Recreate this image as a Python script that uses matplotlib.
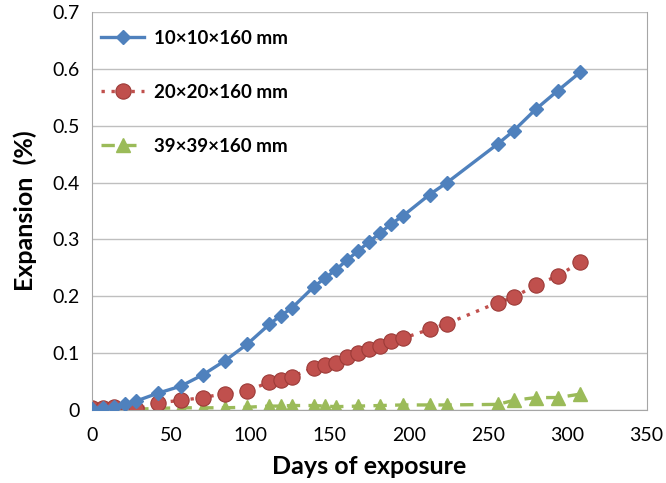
import matplotlib.pyplot as plt

# --- datos ---
dias_10 = [0, 7, 14, 21, 28, 42, 56, 70, 84, 98, 112, 119, 126, 140, 147, 154, 161,
           168, 175, 182, 189, 196, 213, 224, 256, 266, 280, 294, 308]
exp_10 = [0.002, 0.003, 0.005, 0.011, 0.016, 0.030, 0.042, 0.062, 0.087, 0.116, 0.151,
          0.166, 0.179, 0.217, 0.232, 0.247, 0.264, 0.280, 0.296, 0.312, 0.328, 0.341,
          0.379, 0.400, 0.468, 0.491, 0.529, 0.562, 0.594]

dias_20 = [0, 7, 14, 28, 42, 56, 70, 84, 98, 112, 119, 126, 140, 147, 154, 161, 168,
           175, 182, 189, 196, 213, 224, 256, 266, 280, 294, 308]
exp_20 = [0.003, 0.004, 0.005, 0.001, 0.013, 0.017, 0.022, 0.029, 0.034, 0.049, 0.053,
          0.059, 0.074, 0.079, 0.083, 0.093, 0.100, 0.107, 0.113, 0.122, 0.126, 0.142,
          0.152, 0.189, 0.198, 0.220, 0.236, 0.260]

dias_39 = [0, 7, 14, 42, 56, 70, 84, 98, 112, 119, 126, 140, 147, 154, 168, 182, 196,
           213, 224, 256, 266, 280, 294, 308]
exp_39 = [0.000, 0.000, 0.000, 0.003, 0.004, 0.004, 0.004, 0.005, 0.007, 0.007, 0.008,
          0.008, 0.007, 0.006, 0.007, 0.008, 0.009, 0.009, 0.009, 0.010, 0.017, 0.022,
          0.022, 0.028]

etiquetas = ["10×10×160 mm", "20×20×160 mm", "39×39×160 mm"]
xticks = [0, 50, 100, 150, 200, 250, 300, 350]
yticks = [0, 0.1, 0.2, 0.3, 0.4, 0.5, 0.6, 0.7]

plt.rcParams['font.family'] = ['Lato', 'DejaVu Sans']

fig = plt.figure(figsize=(6.66, 4.83), dpi=100)
ax = fig.add_axes([0.138, 0.151, 0.833, 0.824])

ax.plot(dias_10, exp_10, color="#4f81bd", lw=2.4, marker="D", ms=7.5,
        mec="#4f81bd", label=etiquetas[0], zorder=3)
ax.plot(dias_20, exp_20, color="#c0504d", lw=2.4, ls=(0, (1, 2.0)), marker="o", ms=11,
        mfc="#c0504d", mec="#9c3b38", mew=0.8, label=etiquetas[1], zorder=2)
ax.plot(dias_39, exp_39, color="#9bbb59", lw=2.4, ls=(0, (4, 2.5)), marker="^", ms=10,
        mec="#9bbb59", label=etiquetas[2], zorder=1)

ax.set_xlim(0, 350)
ax.set_ylim(0, 0.7)
ax.set_xticks(xticks)
ax.set_yticks(yticks)
ax.set_yticklabels(["0"] + [f"{v:.1f}" for v in yticks[1:]])
ax.tick_params(length=0, labelsize=14)
ax.tick_params(axis="x", pad=12)
ax.tick_params(axis="y", pad=9)
ax.grid(axis="y", color="#bfbfbf", lw=1)
ax.set_axisbelow(True)
for s in ax.spines.values():
    s.set_color("#a6a6a6")
ax.spines["top"].set_visible(False)

ax.set_xlabel("Days of exposure", fontsize=18, fontweight="bold", labelpad=8)
ax.set_ylabel("Expansion  (%)", fontsize=18, fontweight="bold", labelpad=11)

ax.legend(loc="upper left", frameon=False, prop={"size": 13.5, "weight": "bold"},
          labelspacing=1.98, handlelength=2.3, handletextpad=0.5,
          borderaxespad=0.0, bbox_to_anchor=(0.003, 0.975))

fig.savefig("out.png", dpi=100)
